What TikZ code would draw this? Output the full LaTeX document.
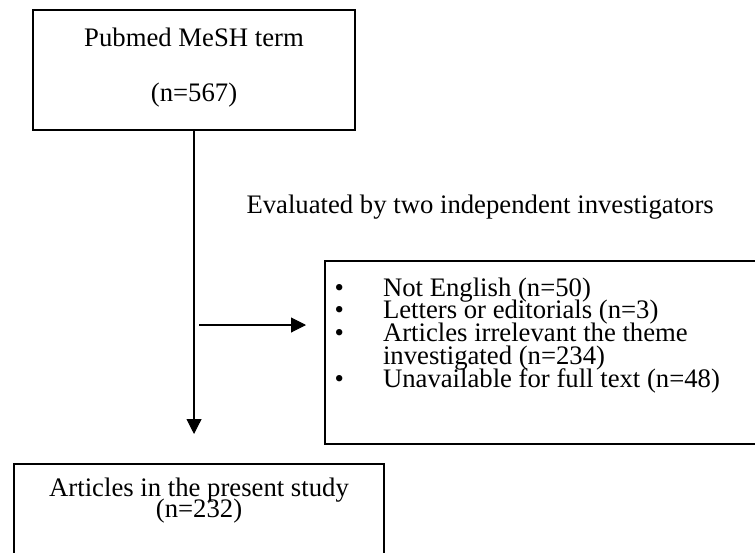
\documentclass[tikz,border=0pt]{standalone}
\usepackage{fontspec}
\setmainfont{Liberation Serif}
\usetikzlibrary{arrows.meta}

\newcommand\boxfont[1]{\fontsize{15.2pt}{#1}\selectfont\lineskiplimit=-\maxdimen}
\newcommand\bul{\makebox[1.16cm][l]{\hspace{0.19cm}\textbullet}}

\tikzset{
  flowbox/.style={draw, rectangle, line width=1.2pt, inner sep=0pt, anchor=north west},
  flowtext/.style={font=\boxfont{0.455cm}, inner sep=0pt}
}

\begin{document}
\begin{tikzpicture}[x=0.02cm, y=-0.02cm, line width=0.6pt]
  \clip (0,0) rectangle (755,552);
  \node[flowbox] (mesh) at (32,9)
    {\parbox[c][2.4cm][t]{6.44cm}{\boxfont{1.1cm}\centering
      \rule{0pt}{0.73cm}Pubmed MeSH term\\(n=567)}};
  \node[flowbox] (excl) at (324,260)
    {\parbox[c][3.66cm][t]{8.92cm}{\boxfont{0.455cm}
      \rule{0pt}{0.70cm}\bul Not English (n=50)\\
      \bul Letters or editorials (n=3)\\
      \bul Articles irrelevant the theme\\
      \hspace*{1.16cm}investigated (n=234)\\
      \bul Unavailable for full text (n=48)}};
  \node[flowbox] (study) at (13,463)
    {\parbox[c][2.6cm][t]{7.4cm}{\boxfont{0.42cm}\centering
      \rule{0pt}{0.64cm}Articles in the present study\\(n=232)}};
  \node[flowtext, anchor=base west] (evallabel) at (246,213)
    {Evaluated by two independent investigators};
  \coordinate (split) at (mesh.south |- 0,325);
  \begin{scope}[-{Triangle[length=0.3cm,width=0.3cm]}]
    \draw[shorten >=0.58cm] (mesh.south) to (mesh.south |- study.north);
    \draw[shorten <=0.1cm, shorten >=0.36cm] (split) to (split -| excl.west);
  \end{scope}
\end{tikzpicture}
\end{document}
